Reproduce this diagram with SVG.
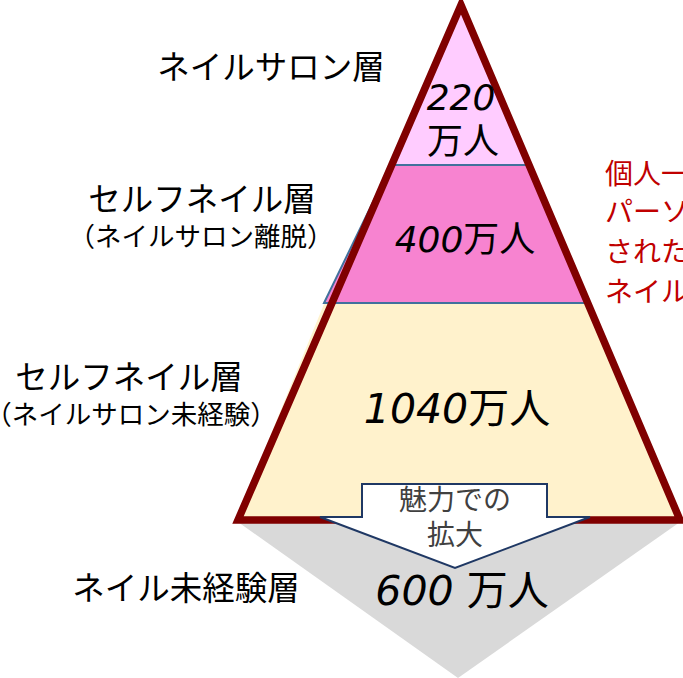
<svg xmlns="http://www.w3.org/2000/svg" width="683" height="678" viewBox="0 0 683 678">
<style>
.lbl{font-family:"Noto Sans CJK JP","Noto Sans",sans-serif;fill:#000;text-anchor:middle}
.big{font-size:32.5px}
.sub{font-size:26.5px}
.num{font-family:"Noto Sans CJK JP",sans-serif;fill:#000;text-anchor:middle}
.dg{font-family:"DejaVu Sans",sans-serif;font-style:italic}
.red{font-family:"Noto Sans CJK JP",sans-serif;font-size:28px;fill:#C00000}
.arrowtxt{font-family:"Noto Sans CJK JP",sans-serif;font-size:28px;fill:#404040;text-anchor:middle}
</style>
<rect width="683" height="678" fill="#fff"/>
<g id="layer-none">
<polygon points="238,522 680,522 458,678" fill="#D9D9D9"/>
</g>
<g id="layer-salon">
<polygon points="461,5 391,165 530,165" fill="#FFCCFF"/>
</g>
<g id="layer-self-left">
<polygon points="391,165 530,165 586,303 324,303" fill="#F783D0" stroke="#41719C" stroke-width="2"/>
</g>
<g id="layer-self-never">
<polygon points="324,304 586,304 682,520 236,520" fill="#FFF2CC"/>
</g>
<g id="pyramid-outline">
<polygon points="461,5 680,520 238,520" fill="none" stroke="#800000" stroke-width="7.5" stroke-linejoin="miter"/>
</g>
<g id="expand-arrow">
<polygon points="362,484 547,484 547,517 590,517 455,568 320,517 362,517" fill="#fff" stroke="#1F3864" stroke-width="2"/>
<text class="arrowtxt" x="455" y="510">魅力での</text>
<text class="arrowtxt" x="455" y="545">拡大</text>
</g>
<g id="num-salon">
<text class="num" x="461" y="110" font-size="36"><tspan class="dg">220</tspan></text>
<text class="num" x="463" y="154" font-size="36">万人</text>
</g>
<g id="num-self-left">
<text class="num" x="465" y="252" font-size="36"><tspan class="dg">400</tspan>万人</text>
</g>
<g id="num-self-never">
<text class="num" x="457" y="423" font-size="41"><tspan class="dg">1040</tspan>万人</text>
</g>
<g id="num-none">
<text class="num" x="462" y="605" font-size="41"><tspan class="dg">600 </tspan>万人</text>
</g>
<g id="labels">
<text class="lbl big" x="271" y="79">ネイルサロン層</text>
<text class="lbl big" x="202" y="211">セルフネイル層</text>
<text class="lbl sub" x="201" y="246">（ネイルサロン離脱）</text>
<text class="lbl big" x="129" y="389">セルフネイル層</text>
<text class="lbl sub" x="131" y="424">（ネイルサロン未経験）</text>
<text class="lbl big" x="186" y="600">ネイル未経験層</text>
</g>
<g id="note">
<text class="red" x="605" y="184">個人一</text>
<text class="red" x="605" y="222">パーソ</text>
<text class="red" x="605" y="262">された</text>
<text class="red" x="605" y="302">ネイル</text>
</g>
</svg>
